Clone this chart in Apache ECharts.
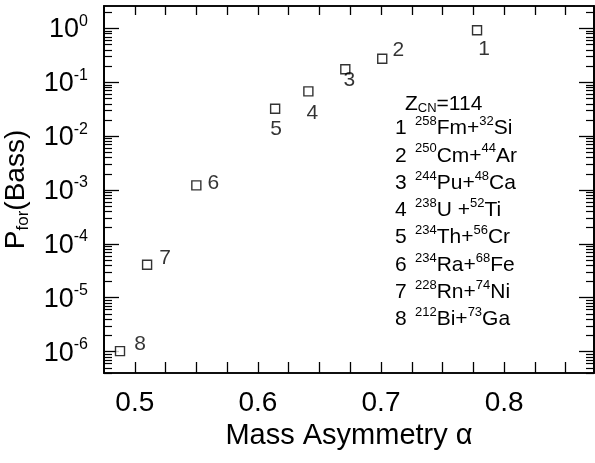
<!DOCTYPE html>
<html><head><meta charset="utf-8">
<script src="https://cdn.jsdelivr.net/npm/echarts@6/dist/echarts.min.js"></script>
<style>html,body{margin:0;padding:0;background:#fff}#c{width:595px;height:463px}</style>
</head><body><div id="c"></div>
<script>
// ---- data ----
const alphaVals = [0.778, 0.701, 0.671, 0.641, 0.614, 0.550, 0.510, 0.488];
const pForBass  = [0.93, 0.275, 0.175, 0.068, 0.0324, 1.22e-3, 4.1e-5, 1.02e-6];
const pointLabels = ['1','2','3','4','5','6','7','8'];
const targetA   = ['258','250','244','238','234','234','228','212'];
const targetSym = ['Fm','Cm','Pu','U ','Th','Ra','Rn','Bi'];
const projA     = ['32','44','48','52','56','68','74','73'];
const projSym   = ['Si','Ar','Ca','Ti','Cr','Fe','Ni','Ga'];
const xTickLabels = [0.5, 0.6, 0.7, 0.8];
const xMinorTicks = [0.5,0.525,0.55,0.575,0.6,0.625,0.65,0.675,0.7,0.725,0.75,0.775,0.8,0.825,0.85];
const yTickExps = [0,-1,-2,-3,-4,-5,-6];
const zCN = '114';

// ---- layout / style ----
const FONT = "'Liberation Sans', Arial, Helvetica, sans-serif";
const labelOffsets = [[7,19],[16,-9],[4,11],[4,22],[1,20],[17,-2],[18,-7],[20,-7]];
const yMin = 4.0e-7, yMax = 2.62, xMin = 0.475, xMax = 0.873;

const yMajor = yTickExps.map(e => Math.pow(10, e));
const yMinor = [];
for (let e = -7; e <= 0; e++) for (let m = 2; m <= 9; m++) {
  const v = m * Math.pow(10, e);
  if (v >= yMin && v <= yMax) yMinor.push(v);
}

const gridRect = {left:104, right:1, top:6, bottom:90, outerBoundsMode:'none', containLabel:false};
const AXLINE = {show:true, onZero:false, lineStyle:{color:'#000', width:1.5}};

function yAx(opts) {
  return Object.assign({
    type:'log', min:yMin, max:yMax, logBase:10,
    splitLine:{show:false},
    axisLine:AXLINE,
  }, opts);
}
function tick(len, vals, w) {
  return {show:true, inside:true, length:len, lineStyle:{color:'#000', width:w}, customValues:vals};
}

const option = {
  animation:false,
  backgroundColor:'#fff',
  textStyle:{fontFamily:FONT, color:'#000'},
  grid: [
    Object.assign({show:true, borderColor:'#000', borderWidth:1.5}, gridRect),
    Object.assign({show:false}, gridRect)
  ],
  xAxis: [
    {gridIndex:0, type:'value', min:xMin, max:xMax, position:'bottom',
     splitLine:{show:false}, axisLine:AXLINE,
     axisTick:tick(11, xMinorTicks, 1.3),
     axisLabel:{show:true, customValues:xTickLabels, formatter:v=>v.toFixed(1), fontSize:28, fontFamily:FONT, color:'#000', margin:16},
     name:'Mass Asymmetry \u03b1', nameLocation:'middle', nameGap:48,
     nameTextStyle:{fontSize:29, fontFamily:FONT, color:'#000'}},
    {gridIndex:0, type:'value', min:xMin, max:xMax, position:'top',
     splitLine:{show:false}, axisLine:AXLINE,
     axisTick:tick(9, xMinorTicks, 1.3),
     axisLabel:{show:false}},
    {gridIndex:1, type:'value', min:xMin, max:xMax, position:'bottom', show:false,
     splitLine:{show:false}, axisLine:{show:false, onZero:false}, axisTick:{show:false}, axisLabel:{show:false}}
  ],
  yAxis: [
    yAx({gridIndex:0, position:'left',
      axisTick:tick(15, yMajor, 1.3),
      axisLabel:{show:true, customValues:yMajor, margin:16,
        formatter:v=>'{b|10}{s|' + Math.round(Math.log10(v)) + '}',
        rich:{b:{fontSize:27, fontFamily:FONT, color:'#000', lineHeight:30, verticalAlign:'bottom'},
              s:{fontSize:16, fontFamily:FONT, color:'#000', lineHeight:16, verticalAlign:'top'}}},
      name:'{a|P}{s|for}{a|(Bass)}', nameLocation:'middle', nameGap:72,
      nameTextStyle:{fontFamily:FONT, color:'#000', fontSize:28,
        rich:{a:{fontSize:28, fontFamily:FONT, color:'#000', lineHeight:30, verticalAlign:'top'},
              s:{fontSize:17, fontFamily:FONT, color:'#000', lineHeight:17, verticalAlign:'bottom'}}}}),
    yAx({gridIndex:0, position:'right',
      axisTick:tick(15, yMajor, 1.3),
      axisLabel:{show:false}}),
    yAx({gridIndex:1, position:'left',
      axisTick:tick(8, yMinor, 1.2),
      axisLabel:{show:false}}),
    yAx({gridIndex:1, position:'right',
      axisTick:tick(8, yMinor, 1.2),
      axisLabel:{show:false}})
  ],
  series: [{
    type:'scatter', xAxisIndex:0, yAxisIndex:0,
    symbol:'rect', symbolSize:9,
    itemStyle:{color:'#fff', borderColor:'#000', borderWidth:1.4},
    label:{show:true, position:'inside', fontSize:21, fontFamily:FONT, color:'#000',
      formatter:p=>pointLabels[p.dataIndex]},
    data: alphaVals.map((x,i)=>({value:[x, pForBass[i]], label:{offset:labelOffsets[i]}}))
  },
  {type:'scatter', xAxisIndex:1, yAxisIndex:1, data:[], silent:true},
  {type:'scatter', xAxisIndex:2, yAxisIndex:2, data:[], silent:true},
  {type:'scatter', xAxisIndex:2, yAxisIndex:3, data:[], silent:true}],
  graphic: []
};

const legRich = {
  n:{fontSize:21, fontFamily:FONT, color:'#000', width:20, lineHeight:24, verticalAlign:'bottom'},
  m:{fontSize:21, fontFamily:FONT, color:'#000', lineHeight:24, verticalAlign:'bottom'},
  s:{fontSize:13, fontFamily:FONT, color:'#000', lineHeight:13, verticalAlign:'top'},
  d:{fontSize:13, fontFamily:FONT, color:'#000', lineHeight:13, verticalAlign:'bottom'}
};
option.graphic.push({type:'text', x:405, y:103, silent:true,
  style:{text:'{m|Z}{d|CN}{m|=' + zCN + '}', rich:legRich, verticalAlign:'middle', align:'left'}});
const legY0 = 127, legDy = 27.3;
for (let i = 0; i < targetA.length; i++) {
  option.graphic.push({type:'text', x:395, y:legY0 + i*legDy, silent:true,
    style:{text:'{n|' + pointLabels[i] + '}{s|' + targetA[i] + '}{m|' + targetSym[i] + '+}{s|' + projA[i] + '}{m|' + projSym[i] + '}',
      rich:legRich, verticalAlign:'middle', align:'left'}});
}

const chart = echarts.init(document.getElementById('c'), null, {renderer:'canvas'});
chart.setOption(option);
</script></body></html>
